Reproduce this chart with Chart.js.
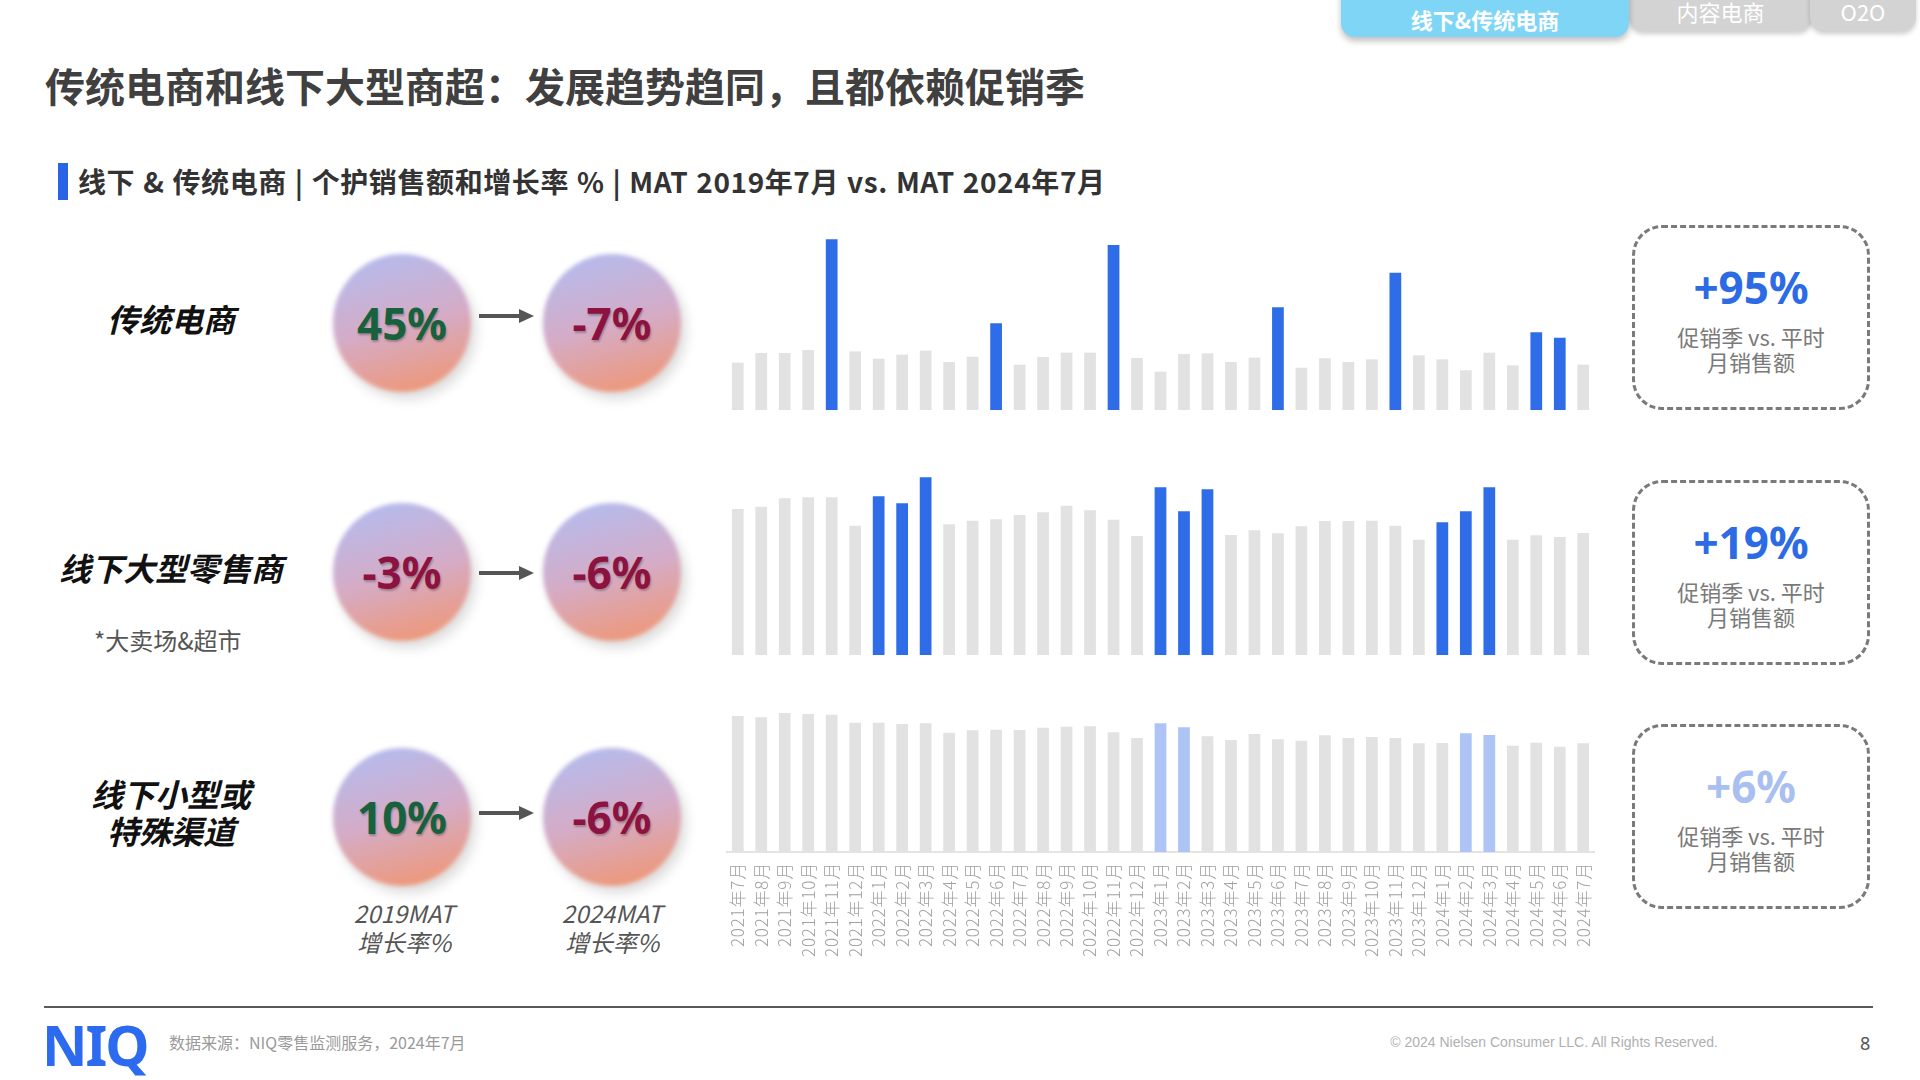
<!DOCTYPE html>
<html>
<head>
<meta charset="utf-8">
<script src="https://cdn.jsdelivr.net/npm/chart.js@4.4.1/dist/chart.umd.min.js"></script>
<style>
  html, body { margin: 0; padding: 0; }
  body {
    width: 1920px; height: 1080px; position: relative; overflow: hidden; background: #fff;
    font-family: "Noto Sans CJK SC", "Noto Sans", sans-serif;
  }
  .abs { position: absolute; }
  .tab { position: absolute; top: -10px; color: #fff; font-weight: 700; font-size: 22px;
         display: flex; align-items: flex-end; justify-content: center; box-sizing: border-box; }
  .title { left: 45px; top: 56px; font-size: 40px; font-weight: 700; color: #404040; white-space: nowrap; }
  .subbar { left: 58px; top: 163px; width: 10px; height: 37px; background: #2a63e6; }
  .subtitle { left: 78px; top: 163px; line-height: 37px; font-size: 28px; font-weight: 700; color: #333;
              white-space: nowrap; letter-spacing: 0.6px; word-spacing: 1px; }
  .rowlabel { width: 300px; margin-left: -150px; text-align: center; font-size: 32px; font-weight: 700;
              font-style: italic; color: #111; line-height: 37px; white-space: pre; }
  .ball { width: 138px; height: 138px; margin: -69px 0 0 -69px; }
  .ball::before { content: ''; position: absolute; inset: 0; border-radius: 50%;
                  background: linear-gradient(165deg, #b0bdf3 0%, #d4acc8 50%, #f3946b 100%);
                  filter: blur(2px); box-shadow: 5px 7px 12px rgba(0,0,0,0.14); }
  .ball span { position: relative; display: flex; align-items: center; justify-content: center; height: 100%;
               font-family: "Noto Sans", sans-serif; font-weight: 700; font-size: 44px;
               text-shadow: 1px 2px 2px rgba(0,0,0,0.25); }
  .matlab { width: 200px; margin-left: -100px; text-align: center; font-size: 24px; font-style: italic;
            color: #555; line-height: 29px; }
  .box { left: 1632px; width: 238px; height: 185px; border: 3px dashed #7a7a7a; border-radius: 30px; box-sizing: border-box; }
  .lift { left: 0; width: 100%; text-align: center; font-family: "Noto Sans", sans-serif; font-weight: 700; font-size: 44px; }
  .liftsub { left: 0; width: 100%; text-align: center; font-size: 22px; color: #7a7a7a; line-height: 25px; }
</style>
</head>
<body>

<div class="tab" style="left:1629px;width:183px;height:41px;background:#d3d3d3;border-radius:0 0 14px 14px;box-shadow:0 3px 5px rgba(0,0,0,0.2);padding-bottom:4px;font-weight:400;">内容电商</div>
<div class="tab" style="left:1810px;width:106px;height:41px;background:#d3d3d3;border-radius:0 0 14px 14px;box-shadow:0 3px 5px rgba(0,0,0,0.2);padding-bottom:4px;font-weight:400;">O2O</div>
<div class="tab" style="left:1341px;width:288px;height:47px;background:#7fd5f5;border-radius:0 0 14px 14px;box-shadow:0 4px 6px rgba(0,0,0,0.25);padding-bottom:2px;">线下&amp;传统电商</div>

<div class="abs title">传统电商和线下大型商超：发展趋势趋同，且都依赖促销季</div>
<div class="abs subbar"></div>
<div class="abs subtitle">线下 &amp; 传统电商 | 个护销售额和增长率 % | MAT 2019年7月 vs. MAT 2024年7月</div>

<canvas id="row1" class="abs" width="869" height="180" style="left:726px;top:230px;"></canvas>
<canvas id="row2" class="abs" width="869" height="190" style="left:726px;top:465px;"></canvas>
<canvas id="row3" class="abs" width="869" height="260" style="left:726px;top:702px;"></canvas>

<div id="rows"></div>

<div class="abs" style="left:44px;top:1006px;width:1829px;height:2px;background:#5a5a5a;"></div>
<div class="abs" style="left:42px;top:1012px;font-family:'Noto Sans',sans-serif;font-weight:700;font-size:56px;color:#2c6bef;letter-spacing:-2px;line-height:64px;">NIQ</div>
<div class="abs" style="left:169px;top:1032px;font-size:16px;color:#9a9a9a;line-height:20px;">数据来源：NIQ零售监测服务，2024年7月</div>
<div class="abs" style="left:1300px;width:418px;top:1033px;text-align:right;font-family:'Liberation Sans',sans-serif;font-size:14px;color:#b0b0b0;line-height:18px;">© 2024 Nielsen Consumer LLC. All Rights Reserved.</div>
<div class="abs" style="left:1860px;top:1031px;font-family:'Noto Sans',sans-serif;font-size:18px;color:#555;line-height:24px;">8</div>

<script>
const months = [
  '2021年7月', '2021年8月', '2021年9月', '2021年10月', '2021年11月', '2021年12月',
  '2022年1月', '2022年2月', '2022年3月', '2022年4月', '2022年5月', '2022年6月',
  '2022年7月', '2022年8月', '2022年9月', '2022年10月', '2022年11月', '2022年12月',
  '2023年1月', '2023年2月', '2023年3月', '2023年4月', '2023年5月', '2023年6月',
  '2023年7月', '2023年8月', '2023年9月', '2023年10月', '2023年11月', '2023年12月',
  '2024年1月', '2024年2月', '2024年3月', '2024年4月', '2024年5月', '2024年6月',
  '2024年7月'
];

// monthly sales, relative units
const ecomSales = [142, 171, 171, 180, 512, 176, 154, 166, 178, 144, 160, 260, 136, 159, 172, 172, 495, 156, 115,
                   168, 170, 144, 157, 308, 127, 155, 144, 152, 412, 164, 152, 119, 172, 134, 233, 217, 136];
const hyperSales = [438, 445, 470, 473, 473, 388, 476, 455, 533, 392, 403, 407, 420, 428, 448, 434, 406, 357, 503,
                    431, 497, 360, 374, 365, 386, 402, 402, 403, 388, 346, 398, 431, 503, 346, 359, 354, 366];
const smallSales = [408, 404, 417, 414, 412, 388, 388, 384, 386, 358, 365, 367, 366, 373, 376, 377, 359, 342, 386,
                    374, 347, 336, 354, 338, 334, 350, 342, 345, 342, 326, 327, 356, 351, 319, 328, 316, 326];

const ecomPromo = ['2021年11月', '2022年6月', '2022年11月', '2023年6月', '2023年11月', '2024年5月', '2024年6月'];
const hyperPromo = ['2022年1月', '2022年2月', '2022年3月', '2023年1月', '2023年2月', '2023年3月',
                    '2024年1月', '2024年2月', '2024年3月'];
const smallPromo = ['2023年1月', '2023年2月', '2024年2月', '2024年3月'];

const channels = ['传统电商', '线下大型零售商', '线下小型或\n特殊渠道'];
const growth2019 = ['45%', '-3%', '10%'];
const growth2024 = ['-7%', '-6%', '-6%'];
const promoLift = ['+95%', '+19%', '+6%'];

// left side: labels, growth balls, arrows, lift boxes
const rowY = [323, 572, 817];
const arrowY = [316, 573, 813];
const boxTop = [225, 480, 724];
const liftColors = ['#2d6be4', '#2d6be4', '#a9bff0'];
let html = '';
channels.forEach((name, i) => {
  const y = rowY[i];
  const lines = name.split('\n').length;
  html += `<div class="abs rowlabel" style="left:171px;top:${y - 5 - lines * 18.5}px">${name}</div>`;
  [growth2019[i], growth2024[i]].forEach((g, k) => {
    const col = g.startsWith('-') ? '#8c1240' : '#17613c';
    html += `<div class="abs ball" style="left:${k ? 612 : 402}px;top:${y}px"><span style="color:${col}">${g}</span></div>`;
  });
  html += `<svg class="abs" style="left:479px;top:${arrowY[i] - 8}px" width="56" height="16">
             <line x1="0" y1="8" x2="44" y2="8" stroke="#555" stroke-width="4"/>
             <polygon points="40,1 55,8 40,15" fill="#555"/></svg>`;
  html += `<div class="abs box" style="top:${boxTop[i]}px">
             <div class="abs lift" style="top:29px;color:${liftColors[i]}">${promoLift[i]}</div>
             <div class="abs liftsub" style="top:96px">促销季 vs. 平时<br>月销售额</div></div>`;
});
html += `<div class="abs" style="left:94px;top:622px;font-size:24px;color:#555;">*大卖场&amp;超市</div>`;
html += `<div class="abs matlab" style="left:404px;top:898px">2019MAT<br>增长率%</div>`;
html += `<div class="abs matlab" style="left:612px;top:898px">2024MAT<br>增长率%</div>`;
document.getElementById('rows').innerHTML = html;

// wider tracking for the rotated month labels
const spacing = {
  id: 'spacing',
  beforeUpdate: (chart) => { chart.ctx.letterSpacing = '0.8px'; },
  beforeDraw: (chart) => { chart.ctx.letterSpacing = '0.8px'; }
};

function makeBars(id, values, promo, promoColor, yMax, showAxis) {
  const colors = months.map(m => promo.includes(m) ? promoColor : '#e2e2e2');
  const xScale = {
    display: showAxis,
    grid: { display: false, drawTicks: false },
    border: { display: true, color: '#e4e4e4', width: 2 },
    ticks: {
      autoSkip: false, maxRotation: 90, minRotation: 90, padding: 10,
      color: '#a0a0a0', font: { family: '"Noto Sans CJK SC", sans-serif', size: 17, weight: 300 }
    }
  };
  if (showAxis) {
    xScale.afterFit = (axis) => { axis.height = 110; axis.paddingLeft = 0; axis.paddingRight = 0; };
  }
  return new Chart(document.getElementById(id), {
    type: 'bar',
    data: {
      labels: months,
      datasets: [{ data: values, backgroundColor: colors, barPercentage: 0.5, categoryPercentage: 1 }]
    },
    options: {
      responsive: false,
      animation: false,
      events: [],
      layout: { padding: 0 },
      plugins: { legend: { display: false }, tooltip: { enabled: false } },
      scales: { y: { display: false, min: 0, max: yMax }, x: xScale }
    },
    plugins: showAxis ? [spacing] : []
  });
}

makeBars('row1', ecomSales, ecomPromo, '#2f6ce8', 540, false);
makeBars('row2', hyperSales, hyperPromo, '#2f6ce8', 570, false);
makeBars('row3', smallSales, smallPromo, '#adc4f5', 450, true);
</script>
</body>
</html>
